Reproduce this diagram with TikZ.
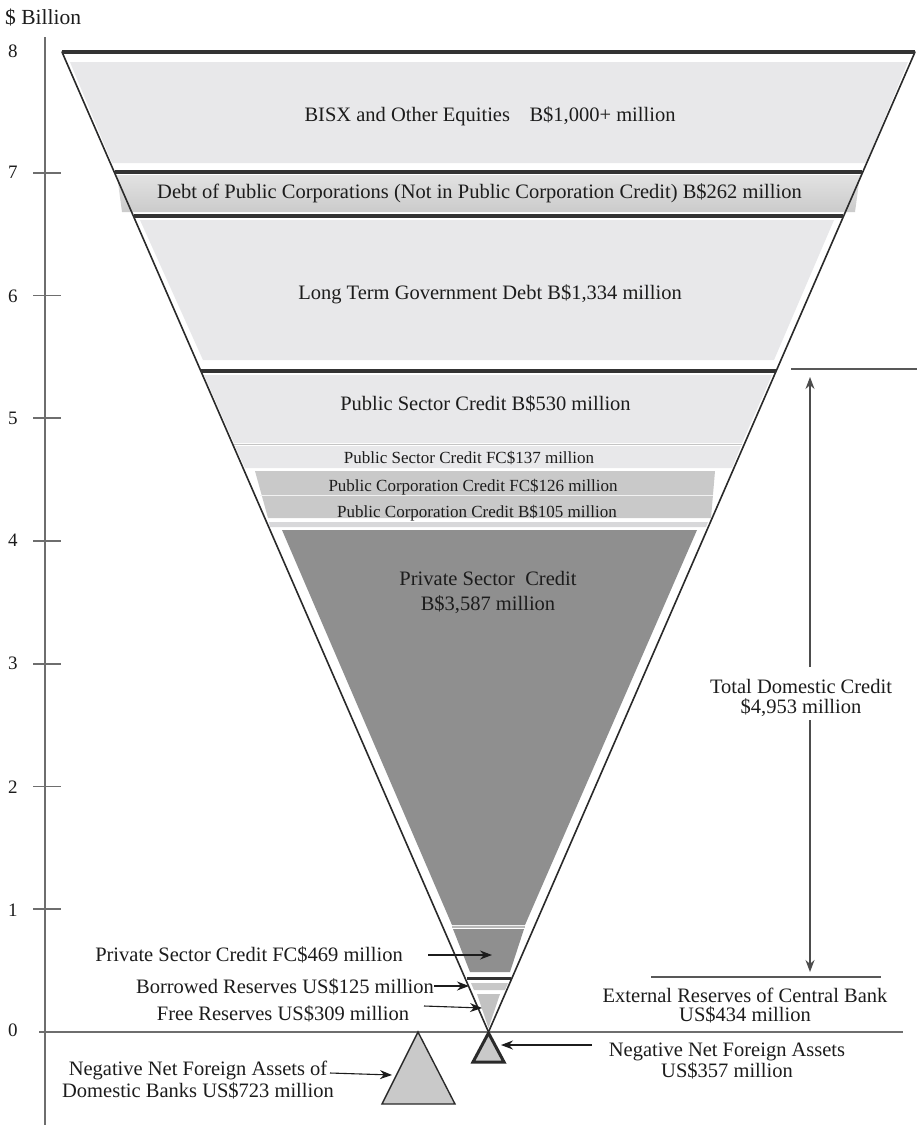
\documentclass[tikz,border=0pt]{standalone}
\usepackage{fontspec}
\setmainfont{Liberation Serif}
\usetikzlibrary{arrows.meta}
\definecolor{txt}{HTML}{1C1C1C}
\definecolor{edge}{HTML}{2A2A2A}
\definecolor{sepcol}{HTML}{333333}
\definecolor{axisgray}{HTML}{6E6E6E}
\definecolor{lightband}{HTML}{E8E8EA}
\definecolor{debttop}{HTML}{E2E2E2}
\definecolor{debtbot}{HTML}{CBCBCB}
\definecolor{midband}{HTML}{C9C9C9}
\definecolor{darkband}{HTML}{8F8F8F}
\definecolor{borrowband}{HTML}{C8C8C8}
\definecolor{freeband}{HTML}{C2C2C2}
\definecolor{triband}{HTML}{C9C9C9}
\definecolor{thinlight}{HTML}{C4C4C4}
\begin{document}
\begin{tikzpicture}[x=1pt,y=-1pt,
  lbl/.style={text=txt, font=\fontsize{20.5}{20}\selectfont, inner sep=0pt, anchor=base},
  sml/.style={text=txt, font=\fontsize{17}{17}\selectfont, inner sep=0pt, anchor=base},
  axlbl/.style={text=txt, font=\fontsize{19}{19}\selectfont, inner sep=0pt, anchor=center},
  sepline/.style={draw=sepcol, line width=3.5pt},
  vline/.style={draw=edge, line width=1.6pt, line cap=round},
  axisline/.style={draw=axisgray, line width=2pt},
  tickline/.style={draw=axisgray, line width=1.6pt},
  annline/.style={draw=axisgray!80!black, line width=1.5pt},
  arr/.style={draw=txt, line width=1.1pt, -{Stealth[length=12pt,width=9pt]}}
]
\fill[white] (0,0) rectangle (924,1125);
\useasboundingbox (0,0) rectangle (924,1125);

% ---------- axis ----------
\draw[axisline] (45,37) -- (45,1125);
\foreach \n in {1,...,7} \draw[tickline] (33,{1032-\n*122.75}) -- (61,{1032-\n*122.75});
\foreach \n/\yy in {8/51,7/172,6/296,5/418,4/540,3/663,2/787,1/910,0/1030}
  \node[axlbl] (ax\n) at (13,\yy) {\n};
\node[lbl, font=\fontsize{21.5}{21}\selectfont, anchor=base west] (unit) at (5,24) {\$ Billion};

% ---------- bands ----------
\fill[lightband] (70,62) -- (908,62) -- (866,163) -- (112,163) -- cycle;
\shade[top color=debttop, bottom color=debtbot] (117,175) -- (860,175) -- (855,212) -- (122,212) -- cycle;
\fill[lightband] (140,220) -- (834,220) -- (774,360) -- (203,360) -- cycle;
\fill[lightband] (204,375) -- (772,375) -- (742,443) -- (234,443) -- cycle;
\draw[thinlight, line width=1pt] (234,444.5) -- (742,444.5);
\fill[lightband] (235,446) -- (741,446) -- (732,468) -- (245,468) -- cycle;
\fill[midband] (255,471) -- (715,471) -- (711,518) -- (268,518) -- cycle;
\draw[white!75!midband, line width=1.2pt] (260,495.5) -- (713,495.5);
\fill[lightband!85!gray] (269,522) -- (708,522) -- (706,527) -- (270,527) -- cycle;
\fill[darkband] (282,530) -- (697,530) -- (525,925) -- (452,925) -- cycle;
\draw[thinlight!80!darkband, line width=2pt] (452,927) -- (525,927);
\fill[darkband] (453,929) -- (524,929) -- (510,972) -- (470,972) -- cycle;
\draw[sepcol, line width=3pt] (467,978.5) -- (511,978.5);
\fill[borrowband] (471,983) -- (508,983) -- (505,990) -- (474,990) -- cycle;
\fill[freeband] (477,994) -- (500,994) -- (488.5,1028) -- cycle;

% ---------- V outline ----------
\draw[vline] (62,52) -- (488.5,1032);
\draw[vline] (915,52) -- (488.5,1032);
\draw[sepline] (62,52) -- (915,52);
\draw[sepline] (115,172) -- (862,172);
\draw[sepline] (134,216) -- (843,216);
\draw[sepline] (201,371) -- (776,371);

% ---------- zero line and triangles ----------
\draw[axisline] (39,1032) -- (903,1032);
\filldraw[fill=triband, draw=edge, line width=3pt, line join=miter] (488.5,1033) -- (504,1062) -- (473,1062) -- cycle;
\filldraw[fill=triband, draw=edge, line width=1.4pt] (418,1032) -- (455,1104) -- (382,1104) -- cycle;

% ---------- band labels ----------
\node[lbl] (bisx) at (490,121) {BISX and Other Equities\hspace{0.7em} B\$1,000+ million};
\node[lbl] (debt) at (479.5,198) {Debt of Public Corporations (Not in Public Corporation Credit) B\$262 million};
\node[lbl] (ltgd) at (490,299) {Long Term Government Debt B\$1,334 million};
\node[lbl] (psc530) at (485.5,410) {Public Sector Credit B\$530 million};
\node[sml] (psc137) at (469,463) {Public Sector Credit FC\$137 million};
\node[sml] (pcc126) at (473,491) {Public Corporation Credit FC\$126 million};
\node[sml] (pcc105) at (477,517) {Public Corporation Credit B\$105 million};
\node[lbl] (psc1) at (488,585) {Private Sector\ \ Credit};
\node[lbl] (psc2) at (488,610) {B\$3,587 million};

% ---------- total domestic credit ----------
\coordinate (tdcTopL) at (791,369);
\coordinate (tdcTopR) at (917,369);
\coordinate (tdcBotL) at (651,977);
\coordinate (tdcBotR) at (881,977);
\coordinate (tdcTopTip) at (810,377);
\coordinate (tdcBotTip) at (810,972);
\coordinate (tdcGapTop) at (810,667);
\coordinate (tdcGapBot) at (810,720);
\draw[annline] (tdcTopL) -- (tdcTopR);
\draw[annline] (tdcBotL) -- (tdcBotR);
\draw[arr, draw=axisgray!70!black] (tdcGapTop) -- (tdcTopTip);
\draw[arr, draw=axisgray!70!black] (tdcGapBot) -- (tdcBotTip);
\node[lbl] (tdc1) at (801,693) {Total Domestic Credit};
\node[lbl] (tdc2) at (801,713) {\$4,953 million};

\node[lbl] (ext1) at (745,1002) {External Reserves of Central Bank};
\node[lbl] (ext2) at (745,1021) {US\$434 million};

% ---------- left labels with arrows ----------
\node[lbl] (pscfc) at (249,961) {Private Sector Credit FC\$469 million};
\node[lbl] (borr) at (285,993) {Borrowed Reserves US\$125 million};
\node[lbl] (free) at (283,1020) {Free Reserves US\$309 million};
\coordinate (pscfcS) at (428,955);
\coordinate (pscfcT) at (492,955);
\coordinate (borrS) at (434,986);
\coordinate (borrT) at (469,986);
\coordinate (freeS) at (424,1006);
\coordinate (freeT) at (482,1008);
\draw[arr] (pscfcS) -- (pscfcT);
\draw[arr] (borrS) -- (borrT);
\draw[arr] (freeS) -- (freeT);

\node[lbl] (nnfd1) at (198,1075) {Negative Net Foreign Assets of};
\node[lbl] (nnfd2) at (198,1097) {Domestic Banks US\$723 million};
\coordinate (nnfdS) at (330,1073);
\coordinate (nnfdT) at (392,1075);
\draw[arr] (nnfdS) -- (nnfdT);

\node[lbl] (nnfa1) at (727,1056) {Negative Net Foreign Assets};
\node[lbl] (nnfa2) at (727,1077) {US\$357 million};
\coordinate (nnfaS) at (592,1045);
\coordinate (nnfaT) at (501,1045);
\draw[arr] (nnfaS) -- (nnfaT);
\end{tikzpicture}
\end{document}
